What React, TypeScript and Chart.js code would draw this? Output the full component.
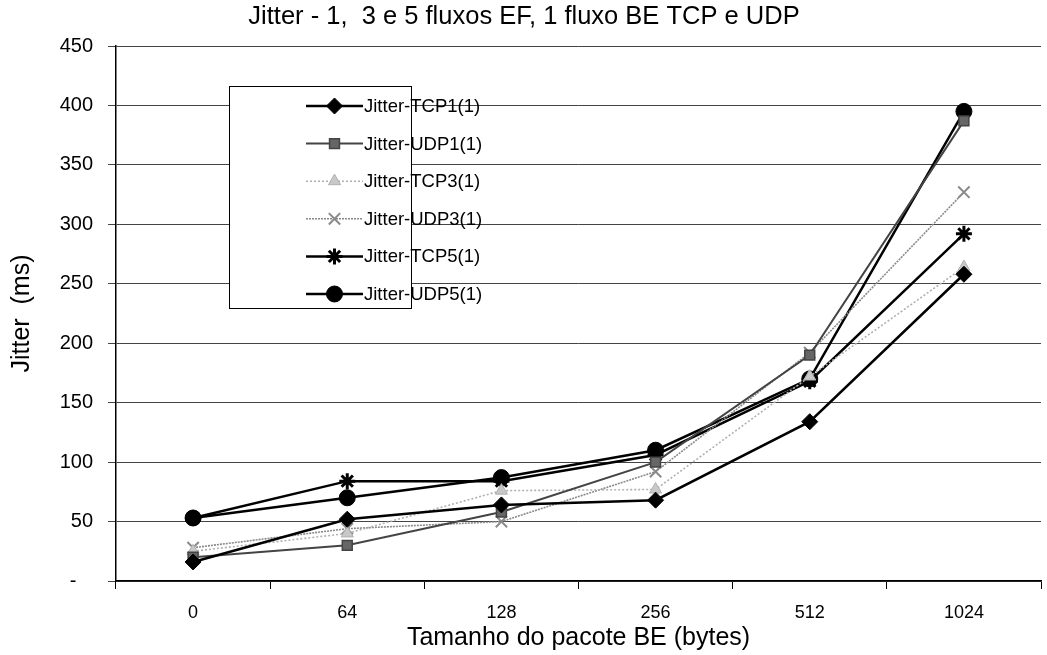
import React, { useEffect, useRef } from 'react';
import { Chart, registerables } from 'chart.js';
import { drawPoint } from 'chart.js/helpers';

Chart.register(...registerables);

const categories = ['0', '64', '128', '256', '512', '1024'];
const seriesNames = ['Jitter-TCP1(1)', 'Jitter-UDP1(1)', 'Jitter-TCP3(1)', 'Jitter-UDP3(1)', 'Jitter-TCP5(1)', 'Jitter-UDP5(1)'];
const tcp1 = [16, 52, 64, 68, 134, 258];
const udp1 = [20, 30, 58, 100, 190, 387];
const tcp3 = [25, 40, 76, 77, 172, 264];
const udp3 = [28, 44, 50, 92, 192, 327];
const tcp5 = [53, 84, 84, 106, 168, 292];
const udp5 = [53, 70, 87, 110, 170, 395];
const yTickValues = [0, 50, 100, 150, 200, 250, 300, 350, 400, 450];

const chartTitle = 'Jitter - 1,  3 e 5 fluxos EF, 1 fluxo BE TCP e UDP';
const xTitle = 'Tamanho do pacote BE (bytes)';
const yTitle = 'Jitter  (ms)';

const FONT = "'Liberation Sans', Arial, sans-serif";

const legendPlugin = {
  id: 'boxLegend',
  afterDatasetsDraw(chart: any) {
    const { ctx, chartArea } = chart;
    const bx = chartArea.left + 113;
    const by = chartArea.top + 40;
    const bw = 182;
    const bh = 222;
    ctx.save();
    ctx.fillStyle = '#fff';
    ctx.fillRect(bx, by, bw, bh);
    ctx.strokeStyle = '#000';
    ctx.lineWidth = 1;
    ctx.strokeRect(bx + 0.5, by + 0.5, bw, bh);
    chart.data.datasets.forEach((ds: any, i: number) => {
      const y = by + 20 + i * 37.6;
      const x0 = bx + 77;
      const x1 = bx + 134;
      ctx.save();
      ctx.strokeStyle = ds.borderColor;
      ctx.lineWidth = ds.borderWidth;
      ctx.setLineDash(ds.borderDash || []);
      ctx.beginPath();
      ctx.moveTo(x0, y);
      ctx.lineTo(x1, y);
      ctx.stroke();
      ctx.restore();
      ctx.save();
      ctx.fillStyle = ds.pointBackgroundColor;
      ctx.strokeStyle = ds.pointBorderColor;
      ctx.lineWidth = ds.pointBorderWidth;
      drawPoint(ctx, { pointStyle: ds.pointStyle, radius: ds.pointRadius, borderWidth: ds.pointBorderWidth, rotation: 0 }, (x0 + x1) / 2, y);
      ctx.restore();
      ctx.fillStyle = '#000';
      ctx.font = `18.5px ${FONT}`;
      ctx.textBaseline = 'middle';
      ctx.textAlign = 'left';
      ctx.fillText(ds.label, x1 + 1, y + 1);
    });
    ctx.restore();
  },
  afterDraw(chart: any) {
    const { ctx } = chart;
    ctx.save();
    ctx.fillStyle = '#000';
    ctx.font = `25.5px ${FONT}`;
    ctx.textAlign = 'center';
    ctx.textBaseline = 'middle';
    ctx.fillText(chartTitle, 524, 17);
    ctx.restore();
  },
};

export default function App() {
  const ref = useRef<HTMLCanvasElement>(null);
  useEffect(() => {
    document.body.style.margin = '0';
    const mk = (label: string, data: number[], color: string, width: number, dash: number[], style: string, r: number, fill: string, pb: number) => ({
      label,
      data,
      borderColor: color,
      borderWidth: width,
      borderDash: dash,
      pointStyle: style,
      pointRadius: r,
      pointHoverRadius: r,
      pointBackgroundColor: fill,
      pointBorderColor: color,
      pointBorderWidth: pb,
      tension: 0,
      fill: false,
    });
    const chart = new Chart(ref.current!, {
      type: 'line',
      data: {
        labels: categories,
        datasets: [
          mk(seriesNames[0], tcp1, '#000', 2.5, [], 'rectRot', 8, '#000', 1),
          mk(seriesNames[1], udp1, '#444', 2, [], 'rect', 7, '#666', 1.5),
          mk(seriesNames[2], tcp3, '#b0b0b0', 1.6, [2, 2], 'triangle', 7, '#c8c8c8', 1),
          mk(seriesNames[3], udp3, '#8a8a8a', 1.6, [2, 1], 'crossRot', 8, '#8a8a8a', 2),
          mk(seriesNames[4], tcp5, '#000', 2.5, [], 'star', 8, '#000', 3),
          mk(seriesNames[5], udp5, '#000', 2.5, [], 'circle', 8, '#000', 1),
        ] as any,
      },
      options: {
        responsive: false,
        animation: false,
        layout: { autoPadding: false, padding: { left: 0, right: 6, top: 46, bottom: 0 } },
        plugins: {
          legend: { display: false },
          title: { display: false },
          tooltip: { enabled: false },
        },
        scales: {
          x: {
            offset: true,
            grid: { display: true, offset: true, drawOnChartArea: false, drawTicks: true, tickLength: 8, color: '#000' },
            border: { display: true, color: '#000', width: 1.5 },
            ticks: { color: '#000', font: { size: 18, family: FONT }, padding: 13, maxRotation: 0 },
            title: { display: true, text: xTitle, color: '#000', font: { size: 25, family: FONT }, padding: { top: 0, bottom: 2 } },
            afterFit: (s: any) => { s.height = 74; },
          },
          y: {
            min: 0,
            max: 450,
            afterBuildTicks: (s: any) => { s.ticks = yTickValues.map((v) => ({ value: v })); },
            grid: { color: '#444', lineWidth: 1, drawTicks: true, tickLength: 8 },
            border: { display: true, color: '#000', width: 1.5 },
            ticks: {
              color: '#000',
              font: { size: 20, family: FONT },
              padding: 15,
              callback: (v: any) => (Number(v) === 0 ? '-   ' : String(v)),
            },
            title: { display: true, text: yTitle, color: '#000', font: { size: 25, family: FONT }, padding: { top: 7, bottom: 0 } },
            afterFit: (s: any) => { s.width = 116; },
          },
        },
      } as any,
      plugins: [legendPlugin],
    });
    return () => chart.destroy();
  }, []);
  return (
    <div style={{ width: 1047, height: 655, background: '#fff' }}>
      <canvas ref={ref} width={1047} height={655} />
    </div>
  );
}
